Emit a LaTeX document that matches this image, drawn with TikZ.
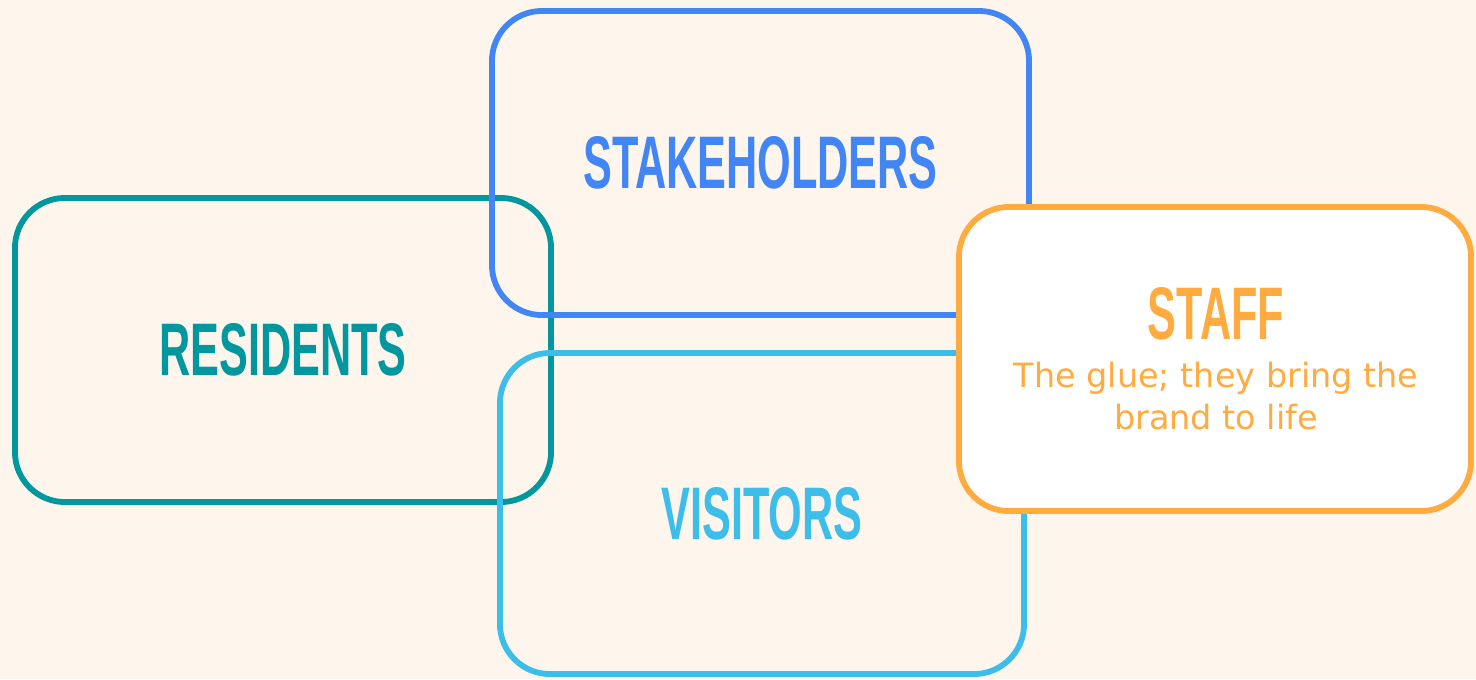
\documentclass[tikz,border=0pt]{standalone}
\usepackage{fontspec}
\setmainfont{DejaVu Sans}
\newfontfamily\headfont[FakeStretch=0.58]{Liberation Sans Bold}
\definecolor{bgcream}{HTML}{FEF5EC}
\definecolor{stakeblue}{HTML}{4285F4}
\definecolor{residentteal}{HTML}{00979F}
\definecolor{visitorblue}{HTML}{3CBDEA}
\definecolor{stafforange}{HTML}{FFAB40}
\begin{document}
\begin{tikzpicture}[x=0.025cm, y=-0.025cm, group box/.style={draw, rounded corners=1.25cm, line width=0.145cm, inner sep=0pt, minimum height=7.6cm, font=\headfont\fontsize{53}{62}\selectfont}, note text/.style={inner sep=0pt, align=center, font=\fontsize{23.8}{29.9}\selectfont}]%
\fill[bgcream] (0,0) rectangle (1476,679);
\begin{scope}[every node/.style={group box}]
\node[residentteal, minimum width=13.4cm] (residents) at (283,350) {RESIDENTS};
\node[stakeblue, minimum width=13.425cm] (stakeholders) at (760.5,163) {STAKEHOLDERS};
\node[visitorblue, minimum width=13.1cm, minimum height=8.025cm] (visitors) at (762,513.5) {VISITORS};
\node[stafforange, fill=white, minimum width=12.8cm] (staff) at (1215,359) {};
\end{scope}
\node[group box, draw=none, stafforange, anchor=base] (stafftitle) at (1216,339) {STAFF};
\node[note text, stafforange, anchor=north] (staffnote) at (1216,362) {The glue; they bring the\\brand to life};
\end{tikzpicture}
\end{document}
